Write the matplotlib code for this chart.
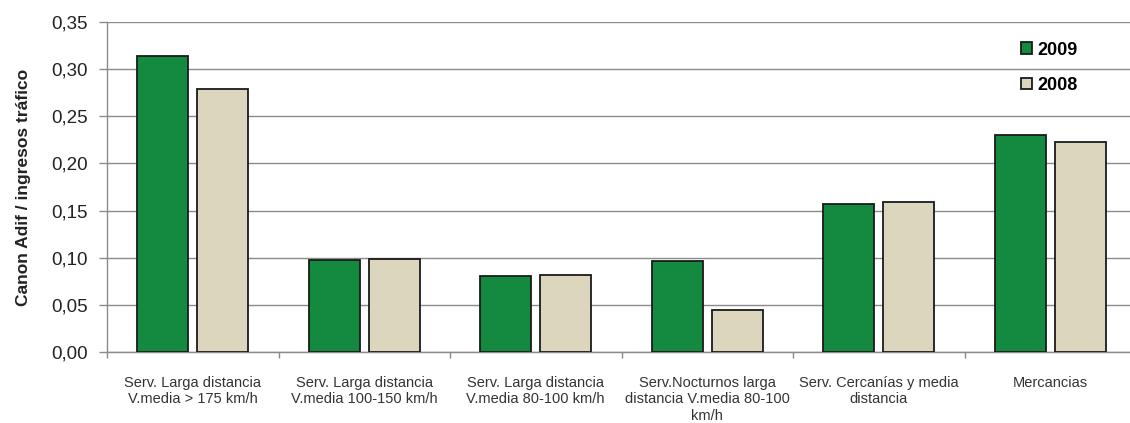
import matplotlib
matplotlib.use('Agg')
import matplotlib.pyplot as plt
import numpy as np
from matplotlib.ticker import FuncFormatter, FixedLocator

plt.rcParams['font.family'] = ['Liberation Sans Narrow', 'Liberation Sans', 'DejaVu Sans']

categories = [
    'Serv. Larga distancia\nV.media > 175 km/h',
    'Serv. Larga distancia\nV.media 100-150 km/h',
    'Serv. Larga distancia\nV.media 80-100 km/h',
    'Serv.Nocturnos larga\ndistancia V.media 80-100\nkm/h',
    'Serv. Cercanías y media\ndistancia',
    'Mercancias',
]
years = ['2009', '2008']
values_2009 = [0.314, 0.098, 0.081, 0.097, 0.157, 0.230]
values_2008 = [0.279, 0.099, 0.082, 0.045, 0.159, 0.223]

GREEN = '#138a3f'
BEIGE = '#ddd6bf'
GRID = '#8a8a8a'

fig = plt.figure(figsize=(11.3, 4.23), dpi=100)
ax = fig.add_axes([107 / 1130, 71 / 423, 1 - 107 / 1130, 330 / 423])

x = np.arange(len(categories))
w = 0.30
off = 0.175
ax.bar(x - off, values_2009, w, color=GREEN, edgecolor='#1a1a1a', linewidth=1.3,
       label=years[0], zorder=3)
ax.bar(x + off, values_2008, w, color=BEIGE, edgecolor='#1a1a1a', linewidth=1.3,
       label=years[1], zorder=3)

ax.set_xlim(-0.5, (1130 - 107) / 171.5 - 0.5)
ax.set_ylim(0, 0.35)
ax.set_yticks(np.arange(0, 0.351, 0.05))
ax.yaxis.set_major_formatter(FuncFormatter(lambda v, p: f'{v:.2f}'.replace('.', ',')))
ax.grid(axis='y', color=GRID, linewidth=1.0, zorder=0)
ax.tick_params(axis='y', colors=GRID, labelcolor='#222222', labelsize=13.5,
               length=6, width=1, pad=8)

ax.set_xticks(x)
ax.set_xticklabels(categories, fontsize=10.5, color='#333333', linespacing=1.25)
ax.tick_params(axis='x', length=0, pad=17)
ax.xaxis.set_minor_locator(FixedLocator(np.arange(-0.5, 6, 1.0)))
ax.tick_params(axis='x', which='minor', length=4, color=GRID, width=1)

for s in ['top', 'right']:
    ax.spines[s].set_visible(False)
for s in ['left', 'bottom']:
    ax.spines[s].set_color(GRID)
    ax.spines[s].set_linewidth(1.0)

ax.set_ylabel('Canon Adif / ingresos tráfico', fontsize=12.5, fontweight='bold',
              color='#222222', labelpad=14)

leg = ax.legend(loc='upper left', bbox_to_anchor=(0.878, 0.99), frameon=False,
                handlelength=0.6, handleheight=0.6, handletextpad=0.3,
                labelspacing=1.0, prop={'size': 13, 'weight': 'bold'})

fig.savefig('out.png', dpi=100)
